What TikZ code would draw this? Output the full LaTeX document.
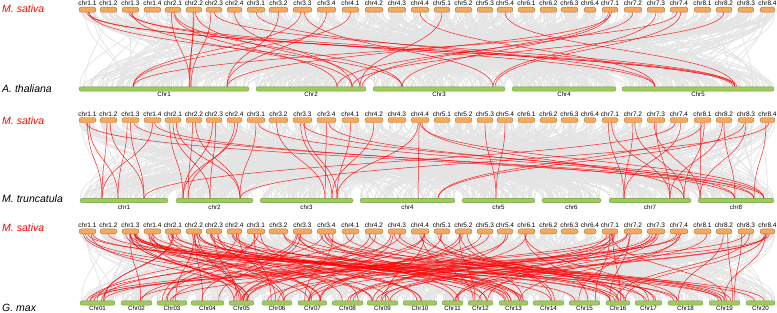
\documentclass[tikz,border=0pt]{standalone}
\usepackage{fontspec}
\setmainfont{Liberation Sans}
\usetikzlibrary{calc,backgrounds}
\definecolor{ofill}{HTML}{F5A95B}
\definecolor{odraw}{HTML}{B0763A}
\definecolor{gfill}{HTML}{9DCB5E}
\definecolor{gdraw}{HTML}{6F9B3A}
\definecolor{lkgray}{HTML}{E4E4E4}
\tikzset{
 obar/.style={draw=odraw, fill=ofill, line width=0.4pt, rounded corners=2.4pt, minimum height=5pt, inner sep=0pt, outer sep=0pt},
 gbar/.style={draw=gdraw, fill=gfill, line width=0.4pt, rounded corners=2pt, minimum height=4.2pt, inner sep=0pt, outer sep=0pt},
 chrlab/.style={font=\fontsize{6.5}{7}\selectfont, anchor=base, inner sep=0pt},
 glab/.style={font=\fontsize{6.2}{7}\selectfont, anchor=base, inner sep=0pt},
 splab/.style={font=\fontsize{10.5}{12}\selectfont\itshape, anchor=base west, inner sep=0pt},
 redlk/.style={draw=red, line width=0.5pt, opacity=0.85},
 graylk/.style={draw=lkgray, line width=0.75pt},
}
\newcommand\lnk[6]{\draw[#1] ($(#2.south west)!#3!(#2.south east)$) to[out=-90,in=90,distance=#6] (#4.north-|#5,0);}
\newcommand\rlnk[6]{\draw[#1] ($(#2.south west)!#3!(#2.south east)$) to[out=-90,in=90,distance=#6] ($(#4.north west)!#5!(#4.north east)$);}
\begin{document}
\begin{tikzpicture}[x=1pt,y=1pt]
\useasboundingbox (0,0) rectangle (777,-313);
% species labels
\node[splab,text=red] (s1) at (2,-12.7) {M. sativa};
\node[splab] (s2) at (2,-92.7) {A. thaliana};
\node[splab,text=red] (s3) at (2,-124.3) {M. sativa};
\node[splab] (s4) at (2,-202.7) {M. truncatula};
\node[splab,text=red] (s5) at (2,-231) {M. sativa};
\node[splab] (s6) at (2,-311.2) {G. max};
% M. sativa bars (three panels)
\foreach \lab/\a/\b [count=\k] in {1.1/79/96, 1.2/100/117, 1.3/122/139, 1.4/144/161, 2.1/165/181, 2.2/186/202, 2.3/206/222, 2.4/227/242, 3.1/247/265, 3.2/269/288, 3.3/293/312, 3.4/317/336, 4.1/342/359, 4.2/365/383, 4.3/388/406, 4.4/411/429, 5.1/434/450, 5.2/455/472, 5.3/477/493, 5.4/497/513, 6.1/518/535, 6.2/540/557, 6.3/561/578, 6.4/584/596, 7.1/602/618, 7.2/624/642, 7.3/647/665, 7.4/670/688, 8.1/694/711, 8.2/716/732, 8.3/738/754, 8.4/760/775}{
 \node[obar,minimum width={\b-\a}] (pa\k) at ({(\a+\b)/2},-9.7) {};
 \node[chrlab] (la\k) at ({(\a+\b)/2},-5.8) {chr\lab};
 \node[obar,minimum width={\b-\a}] (pb\k) at ({(\a+\b)/2},-120) {};
 \node[chrlab] (lb\k) at ({(\a+\b)/2},-116.8) {chr\lab};
 \node[obar,minimum width={\b-\a}] (pc\k) at ({(\a+\b)/2},-231.3) {};
 \node[chrlab] (lc\k) at ({(\a+\b)/2},-227.5) {chr\lab};
}
% A. thaliana
\foreach \lab/\a/\b [count=\k] in {Chr1/79/249, Chr2/256/366, Chr3/373/505, Chr4/512/616, Chr5/622/774}{
 \node[gbar,minimum width={\b-\a}] (ga\k) at ({(\a+\b)/2},-89) {};
 \node[glab] (gla\k) at ({(\a+\b)/2},-96.7) {\lab};
}
% M. truncatula
\foreach \lab/\a/\b [count=\k] in {chr1/80/168, chr2/176/253, chr3/260/353, chr4/360/455, chr5/462/535, chr6/542/601, chr7/609/691, chr8/698/774}{
 \node[gbar,minimum width={\b-\a}] (gb\k) at ({(\a+\b)/2},-200.5) {};
 \node[glab] (glb\k) at ({(\a+\b)/2},-209.7) {\lab};
}
% G. max
\foreach \lab/\a/\b [count=\k] in {Chr01/80/115, Chr02/121/152, Chr03/157/187, Chr04/191/224, Chr05/229/254, Chr06/262/292, Chr07/298/327, Chr08/332/363, Chr09/367/398, Chr10/403/437, Chr11/442/463, Chr12/468/493, Chr13/499/528, Chr14/533/564, Chr15/569/600, Chr16/606/630, Chr17/635/662, Chr18/668/703, Chr19/709/740, Chr20/746/775}{
 \node[gbar,minimum width={\b-\a}] (gc\k) at ({(\a+\b)/2},-303) {};
 \node[glab] (glc\k) at ({(\a+\b)/2},-310.7) {\lab};
}
\begin{pgfonlayer}{background}
\pgfmathsetseed{11}
% grey background links
\foreach \i in {1,...,800}{
 \pgfmathrandominteger{\ta}{1}{32}
 \pgfmathrandominteger{\gg}{1}{5}
 \pgfmathsetmacro{\fa}{rnd}
 \pgfmathsetmacro{\fb}{rnd}
 \rlnk{graylk}{pa\ta}{\fa}{ga\gg}{\fb}{37pt}
}
\foreach \i in {1,...,800}{
 \pgfmathrandominteger{\ta}{1}{32}
 \pgfmathrandominteger{\gg}{1}{8}
 \pgfmathsetmacro{\fa}{rnd}
 \pgfmathsetmacro{\fb}{rnd}
 \rlnk{graylk}{pb\ta}{\fa}{gb\gg}{\fb}{38pt}
}
\foreach \i in {1,...,900}{
 \pgfmathrandominteger{\ta}{1}{32}
 \pgfmathrandominteger{\gg}{1}{20}
 \pgfmathsetmacro{\fa}{rnd}
 \pgfmathsetmacro{\fb}{rnd}
 \rlnk{graylk}{pc\ta}{\fa}{gc\gg}{\fb}{33.5pt}
}
% red links, panel 1
\foreach \t/\f/\g/\x in {1/.45/5/735, 1/.55/5/733, 1/.6/3/402, 3/.5/5/655, 3/.4/5/737, 3/.6/2/352, 5/.4/1/190, 5/.55/2/337, 5/.6/3/402, 6/.45/1/190, 6/.5/1/189, 6/.6/2/360, 7/.3/1/191, 7/.5/5/735, 8/.5/2/352, 9/.5/5/655, 10/.5/1/227, 11/.4/1/133, 11/.6/3/493, 12/.5/1/227, 13/.5/1/133, 16/.5/5/655, 17/.5/2/360, 20/.5/5/735, 25/.4/2/362, 25/.5/3/402, 25/.6/1/227, 26/.5/2/337, 27/.5/3/493, 28/.4/1/133, 28/.6/3/495, 30/.5/2/352}{
 \lnk{redlk}{pa\t}{\f}{ga\g}{\x}{37pt}
}
% red links, panel 2
\foreach \t/\f/\g/\x in {1/.5/1/102, 1/.6/1/118, 1/.4/8/754, 2/.4/1/102, 2/.6/1/144, 3/.3/1/118, 3/.5/1/144, 3/.7/8/764, 4/.5/1/102, 4/.6/8/735, 5/.3/2/183, 5/.5/2/210, 5/.7/2/240, 6/.4/2/188, 6/.6/2/240, 7/.4/2/183, 7/.6/2/210, 8/.5/2/188, 8/.7/2/183, 9/.5/2/240, 9/.6/8/754, 10/.4/3/325, 11/.4/3/332, 11/.6/3/337, 11/.5/8/764, 12/.5/3/325, 12/.6/8/735, 13/.5/3/337, 14/.5/3/332, 16/.4/3/337, 16/.5/8/764, 16/.6/7/684, 16/.45/4/418, 19/.5/5/496, 20/.5/5/496, 25/.4/7/624, 25/.6/7/670, 26/.5/7/624, 26/.6/7/684, 27/.5/7/670, 27/.4/8/700, 28/.3/1/144, 28/.6/7/624, 29/.4/8/700, 29/.5/4/438, 29/.6/7/684, 30/.5/8/735, 30/.4/7/670, 31/.5/8/700, 31/.4/4/438, 32/.4/8/754, 32/.6/2/240}{
 \lnk{redlk}{pb\t}{\f}{gb\g}{\x}{38pt}
}
% red links, panel 3
\foreach \i in {1,...,130}{
 \pgfmathrandominteger{\ra}{0}{40}
 \pgfmathrandominteger{\rb}{0}{33}
 \pgfmathtruncatemacro{\ta}{{1,1,2,3,3,4,5,5,6,6,7,7,8,8,9,9,10,11,11,12,13,14,15,16,16,17,18,19,20,21,24,25,25,26,27,28,28,29,30,31,32}[\ra]}
 \pgfmathtruncatemacro{\gg}{{1,1,2,2,3,4,4,5,5,6,6,7,7,8,9,9,10,11,12,13,13,13,14,15,15,16,16,17,17,18,19,19,19,20}[\rb]}
 \pgfmathsetmacro{\fa}{0.15+0.7*rnd}
 \pgfmathsetmacro{\fb}{0.15+0.7*rnd}
 \rlnk{redlk}{pc\ta}{\fa}{gc\gg}{\fb}{33.5pt}
}
\end{pgfonlayer}
\end{tikzpicture}
\end{document}
